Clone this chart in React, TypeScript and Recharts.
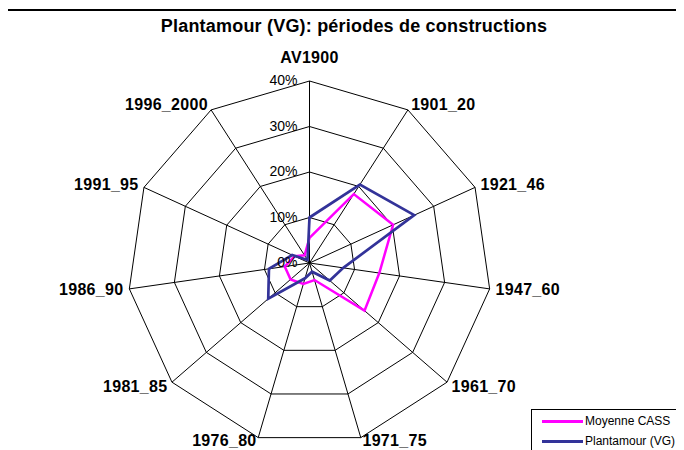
import React from 'react';
import { RadarChart, Radar, PolarGrid, PolarAngleAxis, PolarRadiusAxis, Legend } from 'recharts';

const categories = ['AV1900', '1901_20', '1921_46', '1947_60', '1961_70', '1971_75', '1976_80', '1981_85', '1986_90', '1991_95', '1996_2000'];
const moyenneCass = [5.5, 18, 20.2, 15.5, 16, 3.9, 4.8, 5.5, 5.5, 3.6, 2];
const plantamour = [10, 20.5, 25.3, 7.5, 5.9, 2, 3.5, 12, 9, 4.2, 0.8];
const radiusDomain = [0, 40];
const seriesNames = ['Moyenne CASS', 'Plantamour (VG)'];
const seriesColors = ['#FF00FF', '#333399'];

const data = categories.map((c, i) => ({ cat: c, cass: moyenneCass[i], vg: plantamour[i] }));

const W = 684;
const H = 450;
const CX = 309.5;
const CY = 263;
const R = 182;
const FONT = '"Liberation Sans", Arial, sans-serif';

const AngleTick = (props: any) => {
  const { x, y, payload } = props;
  const dx = x - CX;
  const dy = y - CY;
  const len = Math.hypot(dx, dy) || 1;
  const ux = dx / len;
  const uy = dy / len;
  const anchor = Math.abs(ux) < 0.05 ? 'middle' : ux > 0 ? 'start' : 'end';
  const px = CX + ux * (R + 6);
  let py = CY + uy * (R + 6);
  if (anchor === 'middle' && uy < 0) py = CY - R - 24;
  if (uy > 0.9) py -= 2.5;
  return (
    <text x={px} y={py} textAnchor={anchor} dominantBaseline="central" fontFamily={FONT} fontWeight="bold" fontSize={16} letterSpacing={0.3} fill="#000">
      {payload.value}
    </text>
  );
};

const RadiusTick = (props: any) => {
  const { x, y, payload } = props;
  return (
    <text x={x - 12} y={y - 1} textAnchor="end" dominantBaseline="central" fontFamily={FONT} fontSize={14} fill="#000">
      {`${payload.value}%`}
    </text>
  );
};

const LegendContent = (props: any) => {
  const payload = props.payload || [];
  return (
    <div style={{ border: '1px solid #000', background: '#fff', width: 170, height: 60, boxSizing: 'border-box', position: 'relative' }}>
      {payload.map((p: any, i: number) => (
        <div key={i} style={{ position: 'absolute', left: 10, top: 4 + i * 20, height: 14, display: 'flex', alignItems: 'center' }}>
          <span style={{ display: 'inline-block', width: 41, height: 3, background: p.color }} />
          <span style={{ fontFamily: FONT, fontSize: 12, color: '#000', marginLeft: 2, whiteSpace: 'nowrap' }}>{p.value}</span>
        </div>
      ))}
    </div>
  );
};

export default function App() {
  return (
    <div style={{ position: 'relative', left: -8, top: -8, width: W, height: H, overflow: 'hidden', background: '#fff' }}>
      <div style={{ position: 'absolute', left: 6, top: 9, width: 720, height: 480, borderTop: '2px solid #000', borderLeft: '2px solid #333' }} />
      <div style={{ position: 'absolute', left: 24, top: 16, width: 660, textAlign: 'center', fontFamily: FONT, fontWeight: 'bold', fontSize: 18, letterSpacing: 0.2, lineHeight: '20px', color: '#000' }}>
        Plantamour (VG): périodes de constructions
      </div>
      <div style={{ position: 'absolute', left: 0, top: 0 }}>
        <RadarChart width={W} height={H} data={data} cx={CX} cy={CY} outerRadius={R} margin={{ top: 0, right: 0, bottom: 0, left: 0 }}>
          <PolarGrid gridType="polygon" stroke="#000" strokeWidth={1} />
          <PolarAngleAxis dataKey="cat" tick={AngleTick} tickLine={false} axisLine={false} />
          <PolarRadiusAxis angle={90} domain={radiusDomain} tickCount={5} axisLine={false} tickLine={false} tick={RadiusTick} />
          <Radar dataKey="cass" name={seriesNames[0]} stroke={seriesColors[0]} strokeWidth={2.5} fill="none" fillOpacity={0} dot={false} isAnimationActive={false} />
          <Radar dataKey="vg" name={seriesNames[1]} stroke={seriesColors[1]} strokeWidth={2.7} fill="none" fillOpacity={0} dot={false} isAnimationActive={false} />
          <Legend content={LegendContent} wrapperStyle={{ position: 'absolute', left: 531, top: 409, width: 170, height: 60 }} />
        </RadarChart>
      </div>
    </div>
  );
}
